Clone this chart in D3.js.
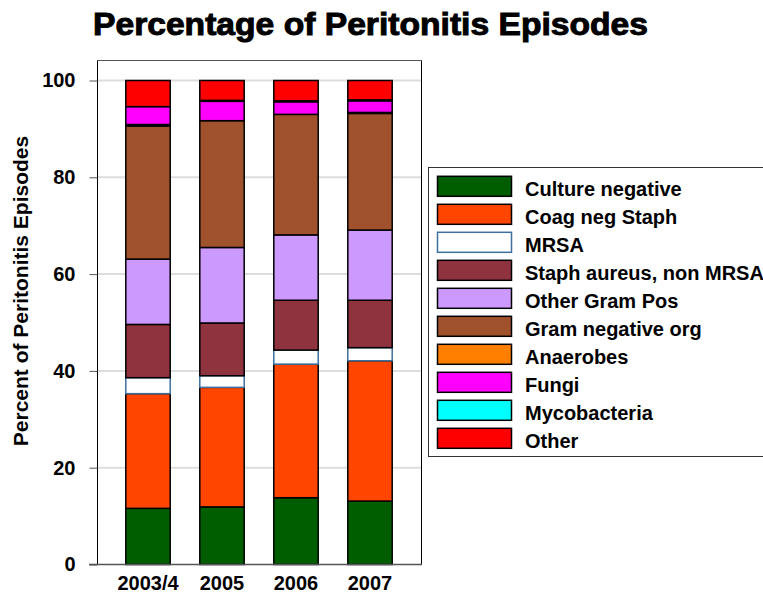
<!DOCTYPE html>
<html>
<head>
<meta charset="utf-8">
<script src="https://cdn.jsdelivr.net/npm/d3@7"></script>
<style>
  body { margin: 0; background: #fff; }
  text { font-family: "Liberation Sans", Arial, sans-serif; font-weight: bold; fill: #000; }
</style>
</head>
<body>
<svg id="chart" width="763" height="593"></svg>
<script>
// data (percent of episodes)
const years = ["2003/4", "2005", "2006", "2007"];
const organisms = ["Culture negative", "Coag neg Staph", "MRSA", "Staph aureus, non MRSA",
  "Other Gram Pos", "Gram negative org", "Anaerobes", "Fungi", "Mycobacteria", "Other"];
const cultureNegative = [11.6, 11.9, 13.8, 13.1];
const coagNegStaph   = [23.7, 24.7, 27.6, 29.0];
const mrsa           = [3.3, 2.4, 2.9, 2.7];
const staphAureus    = [11.0, 10.9, 10.3, 9.8];
const otherGramPos   = [13.5, 15.6, 13.5, 14.5];
const gramNegative   = [27.5, 26.2, 24.9, 24.1];
const anaerobes      = [0.3, 0, 0, 0.2];
const fungi          = [3.7, 4.0, 2.6, 2.4];
const mycobacteria   = [0, 0.2, 0.2, 0.2];
const other          = [5.4, 4.1, 4.2, 4.0];
const yTicks = [0, 20, 40, 60, 80, 100];

const colors = ["#005e00", "#ff4500", "#ffffff", "#8f343f", "#cc99ff",
  "#a0522d", "#ff8000", "#ff00ff", "#00ffff", "#ff0000"];
const strokes = organisms.map(o => o === "MRSA" ? "#3f6f9f" : "#000");

const series = [cultureNegative, coagNegStaph, mrsa, staphAureus, otherGramPos,
  gramNegative, anaerobes, fungi, mycobacteria, other];
const table = years.map((yr, i) => {
  const row = { year: yr };
  organisms.forEach((o, k) => row[o] = series[k][i]);
  return row;
});

const svg = d3.select("#chart");

const x = d3.scaleBand().domain(years).range([111, 407]).paddingInner(0.4).paddingOuter(0.2);
const y = d3.scaleLinear().domain([0, 100]).range([564.5, 80.5]);

// gridlines
svg.append("g").selectAll("line")
  .data(yTicks.filter(d => d > 0))
  .join("line")
  .attr("x1", 98).attr("x2", 421)
  .attr("y1", d => y(d)).attr("y2", d => y(d))
  .attr("stroke", "#dddddd").attr("stroke-width", 2);

// frame
svg.append("line").attr("x1", 97.5).attr("x2", 421.5).attr("y1", 60.5).attr("y2", 60.5)
  .attr("stroke", "#555");
svg.append("line").attr("x1", 421.5).attr("x2", 421.5).attr("y1", 60.5).attr("y2", 564.5)
  .attr("stroke", "#000");

// stacked bars
const stack = d3.stack().keys(organisms);
const layers = stack(table);

svg.append("g").selectAll("g")
  .data(layers)
  .join("g")
  .attr("fill", (d, i) => colors[i])
  .attr("stroke", (d, i) => strokes[i])
  .attr("stroke-width", 1.5)
  .selectAll("rect")
  .data(d => d.filter(s => s[1] - s[0] > 0))
  .join("rect")
  .attr("x", d => x(d.data.year))
  .attr("width", x.bandwidth())
  .attr("y", d => y(d[1]))
  .attr("height", d => y(d[0]) - y(d[1]));

// y axis
const yAxis = svg.append("g")
  .attr("transform", "translate(97.5,0)")
  .call(d3.axisLeft(y).tickValues(yTicks).tickSize(8).tickPadding(14));
yAxis.select(".domain").attr("stroke", "#000").attr("d", "M0,60.5V564.5");
yAxis.selectAll(".tick line").attr("stroke", "#555");
yAxis.selectAll(".tick text").style("font-size", "20px").attr("fill", "#000");

// x axis baseline
svg.append("line").attr("x1", 89).attr("x2", 422).attr("y1", 564.5).attr("y2", 564.5)
  .attr("stroke", "#555").attr("stroke-width", 1.5);

svg.append("g").selectAll("text")
  .data(years)
  .join("text")
  .attr("x", d => x(d) + x.bandwidth() / 2)
  .attr("y", 590)
  .attr("text-anchor", "middle")
  .style("font-size", "20px")
  .text(d => d);

// axis title
svg.append("text")
  .attr("transform", "translate(28,291) rotate(-90)")
  .attr("text-anchor", "middle")
  .style("font-size", "21px")
  .text("Percent of Peritonitis Episodes");

// chart title
svg.append("text")
  .attr("x", 93).attr("y", 35)
  .attr("textLength", 555)
  .attr("lengthAdjust", "spacingAndGlyphs")
  .style("font-size", "32px")
  .style("font-weight", "900")
  .style("stroke", "#000").style("stroke-width", 1)
  .text("Percentage of Peritonitis Episodes");

// legend
const legend = svg.append("g");
legend.append("rect")
  .attr("x", 428.5).attr("y", 167.5).attr("width", 345).attr("height", 289)
  .attr("fill", "#fff").attr("stroke", "#333");

const ly = d3.scalePoint().domain(organisms).range([186.3, 438.3]);
const items = legend.selectAll("g.item")
  .data(organisms)
  .join("g")
  .attr("class", "item")
  .attr("transform", d => `translate(0,${ly(d)})`);
items.append("rect")
  .attr("x", 437.5).attr("y", -10).attr("width", 74).attr("height", 20)
  .attr("fill", (d, i) => colors[i])
  .attr("stroke", (d, i) => strokes[i])
  .attr("stroke-width", 1.5);
items.append("text")
  .attr("x", 525).attr("y", 9.5)
  .style("font-size", "20px")
  .text(d => d);
</script>
</body>
</html>
